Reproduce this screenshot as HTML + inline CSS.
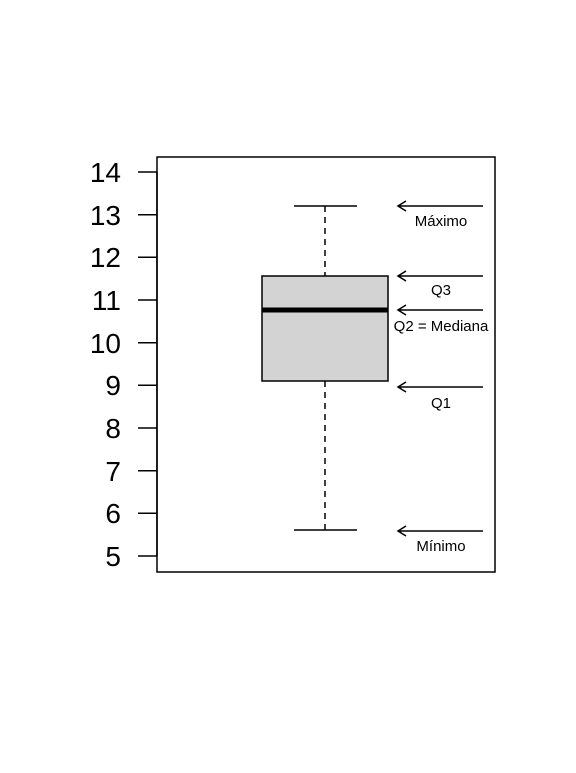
<!DOCTYPE html>
<html><head><meta charset="utf-8"><style>body{margin:0;background:#fff}</style></head><body>
<svg width="576" height="768" xmlns="http://www.w3.org/2000/svg" font-family="Liberation Sans, Arial, sans-serif">
<rect x="157" y="157" width="338" height="415" fill="none" stroke="#000" stroke-width="1.5"/>
<g stroke="#000" stroke-width="1.5">
<line x1="157" y1="172" x2="157" y2="556"/>
<line x1="138" y1="172" x2="157" y2="172"/>
<line x1="138" y1="214.7" x2="157" y2="214.7"/>
<line x1="138" y1="257.3" x2="157" y2="257.3"/>
<line x1="138" y1="300" x2="157" y2="300"/>
<line x1="138" y1="342.7" x2="157" y2="342.7"/>
<line x1="138" y1="385.3" x2="157" y2="385.3"/>
<line x1="138" y1="428" x2="157" y2="428"/>
<line x1="138" y1="470.7" x2="157" y2="470.7"/>
<line x1="138" y1="513.3" x2="157" y2="513.3"/>
<line x1="138" y1="556" x2="157" y2="556"/>
</g>
<g font-size="28" text-anchor="end" fill="#000">
<text x="121" y="182">14</text>
<text x="121" y="225">13</text>
<text x="121" y="267">12</text>
<text x="121" y="310">11</text>
<text x="121" y="353">10</text>
<text x="121" y="395">9</text>
<text x="121" y="438">8</text>
<text x="121" y="481">7</text>
<text x="121" y="523">6</text>
<text x="121" y="566">5</text>
</g>
<g stroke="#000" stroke-width="1.5">
<line x1="325" y1="206" x2="325" y2="276" stroke-dasharray="6,5"/>
<line x1="325" y1="381" x2="325" y2="530" stroke-dasharray="6,5"/>
<line x1="294" y1="206" x2="357" y2="206"/>
<line x1="294" y1="530" x2="357" y2="530"/>
<rect x="262" y="276" width="126" height="105" fill="#d3d3d3"/>
</g>
<line x1="262" y1="310" x2="388" y2="310" stroke="#000" stroke-width="5"/>
<g stroke="#000" stroke-width="1.5" fill="none">
<path d="M483 206H398M406 201L398 206L406 211"/>
<path d="M483 276H398M406 271L398 276L406 281"/>
<path d="M483 310H398M406 305L398 310L406 315"/>
<path d="M483 387H398M406 382L398 387L406 392"/>
<path d="M483 531H398M406 526L398 531L406 536"/>
</g>
<g font-size="15" text-anchor="middle" fill="#000">
<text x="441" y="226">Máximo</text>
<text x="441" y="295">Q3</text>
<text x="441" y="331">Q2 = Mediana</text>
<text x="441" y="408">Q1</text>
<text x="441" y="551">Mínimo</text>
</g>
</svg>
</body></html>
